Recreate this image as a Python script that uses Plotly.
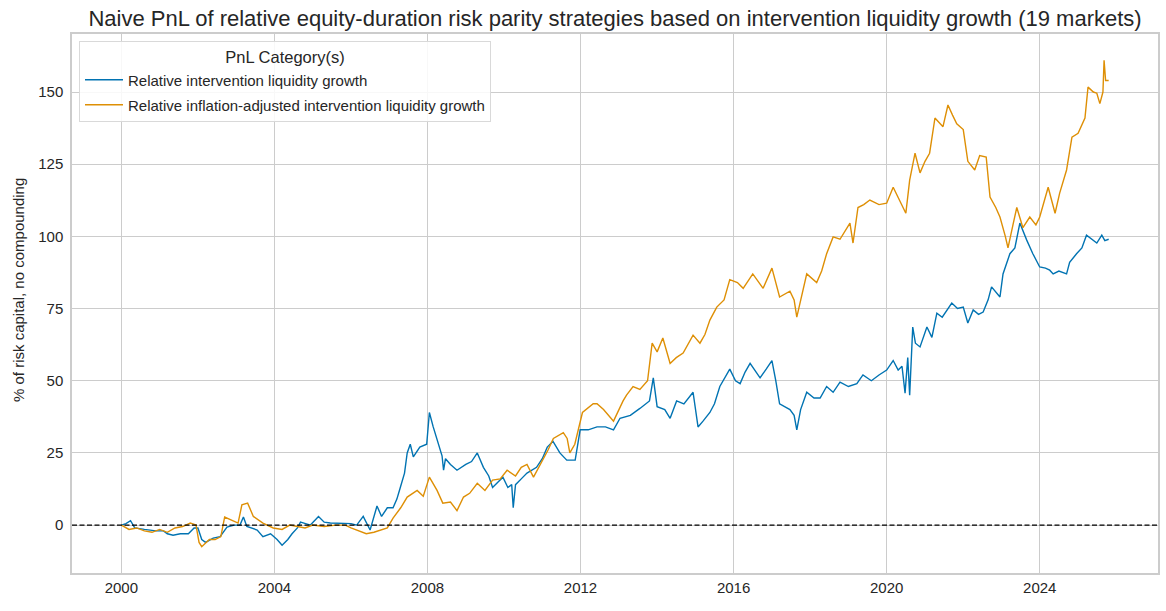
import pandas as pd
import plotly.graph_objects as go

TITLE = "Naive PnL of relative equity-duration risk parity strategies based on intervention liquidity growth (19 markets)"
Y_TITLE = "% of risk capital, no compounding"
LEGEND_TITLE = "PnL Category(s)"
NAME_A = "Relative intervention liquidity growth"
NAME_B = "Relative inflation-adjusted intervention liquidity growth"

# decimal-year timestamps and values
t_a = [2000.0, 2000.12, 2000.24, 2000.35, 2000.6, 2000.9, 2001.1, 2001.2, 2001.35, 2001.54, 2001.75, 2001.9,
       2002.0, 2002.1, 2002.2, 2002.4, 2002.58, 2002.76, 2002.95, 2003.1, 2003.19, 2003.28, 2003.55, 2003.7,
       2003.9, 2004.07, 2004.2, 2004.35, 2004.46, 2004.6, 2004.68, 2004.94, 2005.15, 2005.3, 2005.46, 2005.8,
       2006.0, 2006.15, 2006.32, 2006.5, 2006.68, 2006.8, 2006.95, 2007.1, 2007.2, 2007.29, 2007.4, 2007.47,
       2007.55, 2007.63, 2007.8, 2007.98, 2008.05, 2008.15, 2008.25, 2008.38, 2008.42, 2008.47, 2008.6,
       2008.77, 2009.0, 2009.15, 2009.3, 2009.46, 2009.6, 2009.7, 2009.85, 2009.97, 2010.1, 2010.2, 2010.24,
       2010.3, 2010.45, 2010.6, 2010.85, 2011.0, 2011.13, 2011.28, 2011.46, 2011.64, 2011.86, 2011.99,
       2012.2, 2012.43, 2012.65, 2012.86, 2013.03, 2013.3, 2013.55, 2013.8, 2013.9, 2014.0, 2014.2, 2014.34,
       2014.51, 2014.7, 2014.94, 2015.07, 2015.2, 2015.38, 2015.5, 2015.64, 2015.9, 2016.05, 2016.17,
       2016.3, 2016.43, 2016.69, 2016.85, 2017.0, 2017.1, 2017.2, 2017.47, 2017.58, 2017.65, 2017.75,
       2017.91, 2018.1, 2018.26, 2018.43, 2018.6, 2018.78, 2019.0, 2019.22, 2019.38, 2019.6, 2019.8, 2020.0,
       2020.17, 2020.3, 2020.4, 2020.48, 2020.55, 2020.6, 2020.68, 2020.75, 2020.87, 2021.05, 2021.18,
       2021.31, 2021.45, 2021.57, 2021.7, 2021.85, 2022.0, 2022.12, 2022.26, 2022.4, 2022.52, 2022.65,
       2022.74, 2022.96, 2023.04, 2023.22, 2023.35, 2023.48, 2023.58, 2023.66, 2023.82, 2024.0, 2024.15,
       2024.26, 2024.35, 2024.5, 2024.7, 2024.78, 2024.96, 2025.1, 2025.22, 2025.35, 2025.49, 2025.62,
       2025.7, 2025.8]
v_a = [0.0, 0.5, 1.5, -1.0, -1.5, -2.0, -2.0, -3.0, -3.5, -3.0, -3.0, -1.0,
       -1.0, -5.0, -6.0, -4.5, -4.0, -0.7, 0.0, 0.0, 2.8, -0.5, -1.7, -4.0,
       -3.0, -5.0, -7.0, -5.0, -3.0, -1.0, 1.0, 0.0, 3.0, 1.0, 0.7, 0.5,
       0.5, 0.0, 3.0, -1.7, 6.6, 3.0, 6.0, 6.0, 9.0, 13.0, 18.0, 25.0,
       28.0, 23.6, 27.0, 28.0, 39.0, 34.0, 30.0, 24.0, 19.0, 23.0, 21.0,
       19.0, 21.0, 22.0, 25.0, 20.0, 17.0, 13.0, 15.0, 16.6, 13.0, 14.0, 6.0,
       14.0, 16.0, 18.0, 20.0, 23.0, 27.0, 29.0, 25.0, 22.5, 22.5, 33.0,
       33.0, 34.0, 34.0, 33.0, 37.0, 38.0, 40.4, 43.0, 51.0, 41.0, 40.0, 37.0,
       43.0, 42.0, 46.0, 34.0, 36.0, 39.0, 42.0, 48.0, 54.0, 50.0, 49.0,
       53.0, 56.0, 51.0, 54.0, 57.0, 50.0, 42.0, 40.0, 38.0, 33.0, 40.0,
       46.0, 44.0, 44.0, 48.0, 46.0, 49.5, 48.0, 49.0, 52.0, 50.0, 52.0, 53.7,
       57.0, 53.7, 55.0, 45.7, 58.0, 45.0, 68.6, 63.0, 61.7, 68.6, 65.0,
       73.4, 72.0, 74.5, 76.9, 75.0, 75.5, 70.0, 74.5, 73.0, 73.8, 78.0,
       82.5, 79.0, 87.0, 94.0, 96.0, 104.6, 101.0, 98.7, 94.0, 89.4, 89.0,
       88.3, 87.0, 88.0, 87.0, 91.0, 94.0, 96.0, 100.4, 99.0, 97.7, 100.4,
       98.5, 99.0]

t_b = [2000.0, 2000.2, 2000.4, 2000.6, 2000.8, 2001.0, 2001.2, 2001.4, 2001.6, 2001.8, 2001.95,
       2002.03, 2002.1, 2002.3, 2002.45, 2002.6, 2002.7, 2002.85, 2003.05, 2003.15, 2003.3, 2003.45,
       2003.55, 2003.7, 2003.97, 2004.2, 2004.4, 2004.6, 2004.8, 2005.0, 2005.3, 2005.6, 2005.85,
       2006.0, 2006.2, 2006.4, 2006.6, 2006.8, 2006.95, 2007.1, 2007.3, 2007.47, 2007.6, 2007.73,
       2007.89, 2008.05, 2008.25, 2008.4, 2008.6, 2008.77, 2008.94, 2009.1, 2009.3, 2009.5, 2009.7,
       2009.9, 2010.08, 2010.3, 2010.45, 2010.6, 2010.77, 2011.0, 2011.15, 2011.29, 2011.55, 2011.65,
       2011.72, 2011.85, 2012.05, 2012.33, 2012.43, 2012.6, 2012.86, 2013.11, 2013.2, 2013.37, 2013.55,
       2013.75, 2013.87, 2014.0, 2014.15, 2014.34, 2014.5, 2014.68, 2014.94, 2015.12, 2015.25, 2015.38,
       2015.56, 2015.75, 2015.9, 2016.1, 2016.25, 2016.5, 2016.77, 2017.0, 2017.2, 2017.47, 2017.58,
       2017.65, 2017.91, 2018.17, 2018.3, 2018.43, 2018.6, 2018.78, 2019.04, 2019.12, 2019.25, 2019.4,
       2019.56, 2019.8, 2020.0, 2020.17, 2020.35, 2020.5, 2020.6, 2020.74, 2020.87, 2021.0, 2021.12,
       2021.26, 2021.47, 2021.6, 2021.72, 2021.83, 2022.0, 2022.12, 2022.3, 2022.43, 2022.6, 2022.7,
       2022.85, 2022.96, 2023.1, 2023.17, 2023.3, 2023.4, 2023.56, 2023.74, 2023.9, 2024.0, 2024.22,
       2024.4, 2024.52, 2024.7, 2024.84, 2025.0, 2025.18, 2025.26, 2025.4, 2025.49, 2025.57, 2025.65,
       2025.68, 2025.72, 2025.8]
v_b = [0.0, -1.5, -1.0, -2.0, -2.5, -1.5, -2.5, -1.0, -0.5, 0.7, 0.0,
       -6.0, -7.5, -5.0, -5.0, -4.0, 2.8, 2.0, 0.7, 7.0, 7.6, 3.0,
       2.0, 0.7, -1.0, -1.5, 0.0, -0.5, -1.0, 0.0, -0.5, 0.0, 0.0,
       -1.0, -2.0, -3.0, -2.5, -1.5, -1.0, 2.4, 6.0, 9.7, 11.0, 12.0,
       10.0, 16.6, 12.0, 7.6, 8.0, 5.0, 9.7, 11.0, 14.5, 12.0, 15.6,
       16.0, 19.0, 17.0, 20.0, 21.0, 16.6, 22.0, 26.0, 30.0, 32.0, 30.0,
       25.0, 28.0, 39.0, 42.0, 42.0, 40.0, 36.0, 43.0, 45.0, 48.0, 47.0,
       50.0, 63.0, 60.0, 64.8, 56.0, 58.0, 59.6, 65.8, 63.0, 66.0, 71.0,
       75.5, 78.0, 85.0, 84.0, 82.0, 87.0, 82.0, 89.0, 79.0, 81.0, 78.0,
       72.0, 87.0, 84.0, 88.0, 94.0, 99.8, 99.0, 104.6, 97.7, 110.0, 111.0,
       112.6, 111.0, 111.5, 117.0, 112.0, 108.0, 119.5, 128.8, 122.0, 126.0, 128.8,
       141.0, 138.0, 145.5, 142.0, 139.0, 137.0, 126.0, 123.0, 128.0, 127.5, 113.6,
       110.0, 106.7, 100.0, 96.0, 104.0, 110.0, 103.0, 106.7, 104.0, 106.7, 117.0,
       108.0, 115.0, 123.0, 134.4, 135.7, 141.0, 151.7, 150.0, 149.6, 146.0, 150.0,
       161.0, 154.0, 154.0]

X_TICKS = [2000, 2004, 2008, 2012, 2016, 2020, 2024]
Y_TICKS = [0, 25, 50, 75, 100, 125, 150]

BLUE = "#0173b2"
ORANGE = "#de8f05"
TEXT = "#262626"
GRID = "#cccccc"


def to_dates(ts):
    out = []
    for t in ts:
        y = int(t)
        start = pd.Timestamp(year=y, month=1, day=1)
        end = pd.Timestamp(year=y + 1, month=1, day=1)
        out.append(start + (end - start) * (t - y))
    return out


x_a = to_dates(t_a)
x_b = to_dates(t_b)

fig = go.Figure()
fig.add_trace(go.Scatter(x=x_a, y=v_a, mode="lines", name=NAME_A, legendgroup="a",
                         line=dict(color=BLUE, width=1.4)))
fig.add_trace(go.Scatter(x=x_b, y=v_b, mode="lines", name=NAME_B, legendgroup="b",
                         line=dict(color=ORANGE, width=1.4)))
fig.add_hline(y=0, line=dict(color="black", width=1.2, dash="5px,2.5px"))

x0 = to_dates([1998.71])[0]
x1 = to_dates([2027.09])[0]

W, H = 1166, 611
ML, MR, MT, MB = 72, 8, 34, 38
PW = W - ML - MR
PH = H - MT - MB

fig.add_annotation(text=Y_TITLE, textangle=-90, xref="paper", yref="paper",
                   x=(18 - ML) / PW, y=(H - MB - 290) / PH, xanchor="center", yanchor="middle",
                   showarrow=False, font=dict(size=15, color=TEXT))

fig.update_layout(
    width=W, height=H,
    paper_bgcolor="white", plot_bgcolor="white",
    margin=dict(l=ML, r=MR, t=MT, b=MB, autoexpand=False),
    font=dict(family="Liberation Sans, Arial, sans-serif", color=TEXT, size=15),
    title=dict(text=TITLE, x=0.5, xanchor="center", xref="paper",
               yref="container", y=1 - 18 / H, yanchor="middle",
               font=dict(size=22, color=TEXT)),
    xaxis=dict(range=[x0, x1], tickvals=to_dates(X_TICKS), ticktext=[str(v) for v in X_TICKS],
               showgrid=True, gridcolor=GRID, gridwidth=1,
               showline=True, linecolor=GRID, linewidth=1.5, mirror=True,
               ticks="", zeroline=False, tickfont=dict(size=15, color=TEXT)),
    yaxis=dict(range=[-16.6, 170.1], tickvals=Y_TICKS,
               showgrid=True, gridcolor=GRID, gridwidth=1,
               showline=True, linecolor=GRID, linewidth=1.5, mirror=True,
               ticks="", zeroline=False, tickfont=dict(size=15, color=TEXT),
               ticklabelstandoff=4),
    legend=dict(x=(79 - ML) / PW, y=1 - (41 - MT) / PH, xanchor="left", yanchor="top",
                bgcolor="rgba(255,255,255,0.85)", bordercolor="#d9d9d9", borderwidth=1,
                font=dict(size=15, color=TEXT),
                title=dict(text=LEGEND_TITLE, side="top center", font=dict(size=16.5, color=TEXT)),
                itemwidth=38, tracegroupgap=2.5),
    showlegend=True,
)

fig.write_html("out.html", config={"displayModeBar": False},
               post_script="document.body.style.margin='0px';")
